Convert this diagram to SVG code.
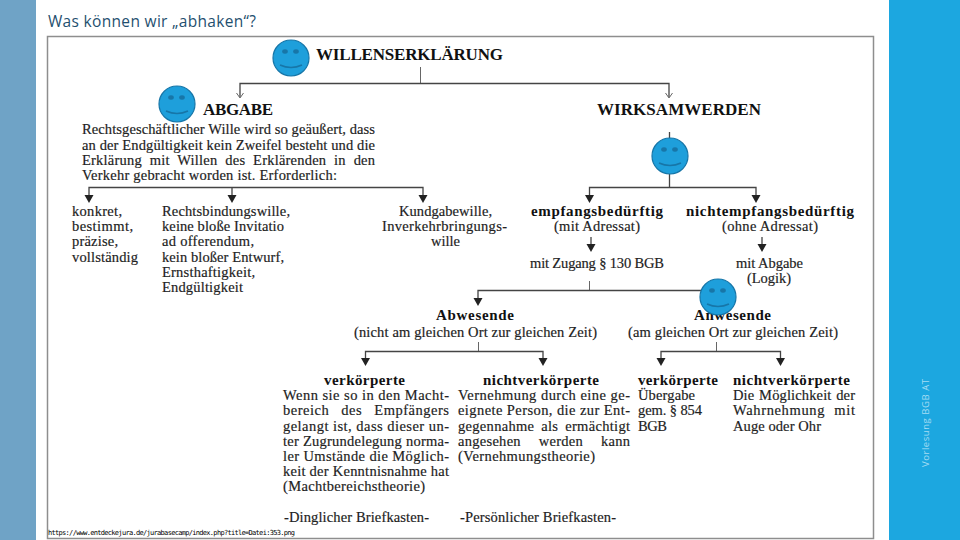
<svg xmlns="http://www.w3.org/2000/svg" width="960" height="540" viewBox="0 0 960 540">
<style>
text{font-family:"Liberation Serif","DejaVu Serif",serif;fill:#222}
.b{font-size:15px;font-weight:700;fill:#111}
.h{font-size:17px;font-weight:700;fill:#111}
.t{font-size:14.500px;stroke:#222;stroke-width:.18}
.c{fill:none;stroke:#444;stroke-width:1.3}
.th{fill:none;stroke:#666;stroke-width:1}
.s{fill:#1e9fdb;stroke:#1776a8;stroke-width:1.2}
.e{fill:#1776a8}
.m{fill:none;stroke:#1776a8;stroke-width:1.6}
</style>
<defs>
<symbol id="sm" viewBox="0 0 38 38" overflow="visible">
<circle class="s" cx="19" cy="19" r="18"/>
<ellipse class="e" cx="13" cy="12.500" rx="2.800" ry="2.200"/><ellipse class="e" cx="24" cy="12.500" rx="2.800" ry="2.200"/>
<path class="m" d="M8 26 Q19 31 30 26"/>
</symbol>
</defs>
<rect width="960" height="540" fill="#fff"/>
<rect x="0" y="0" width="36" height="540" fill="#6fa3c6"/>
<rect x="889" y="0" width="71" height="540" fill="#1ca7e0"/>
<text x="48" y="27" style="font-family:'Open Sans',Lato,sans-serif;font-size:15.500px;fill:#1f506f" textLength="208">Was können wir „abhaken“?</text>
<text transform="translate(929,467) rotate(-90)" style="font-family:'Open Sans',sans-serif;font-size:9.500px;fill:#a5dcf3" textLength="88">Vorlesung BGB AT</text>
<rect x="47.500" y="36.500" width="826" height="502" fill="#fff" stroke="#8e8e8e" stroke-width="1.500"/>

<g id="connectors">
<path class="th" d="M420.500 67V83"/>
<path class="c" d="M240 97V83.500H669V97"/>
<path class="th" d="M236.500 93L240 98L243.500 93M665.500 93L669 98L672.500 93"/>
<path class="c" d="M89 197V187.500H423V197M232 187.500V197"/>
<path class="c" d="M669.500 132V187.500M589.500 197V187.500H756V197"/>
<path class="c" d="M591 237V246"/><path class="c" d="M762 237V246"/>
<path class="th" d="M589.500 281V290"/>
<path class="c" d="M478 300V290.500H705"/>
<path class="th" d="M478.500 342V351M716.500 342V351"/>
<path class="c" d="M365.500 360V351.500H543V360"/>
<path class="c" d="M661 360V351.500H780.500V360"/>
<path fill="#222" d="M84.500 195h9l-4.500 8zM227.500 195h9l-4.500 8zM418.500 195h9l-4.500 8zM585 195h9l-4.500 8zM751.500 195h9l-4.500 8zM586.500 244h9l-4.500 8zM757.500 244h9l-4.500 8zM473.500 298h9l-4.500 8zM361 358h9l-4.500 8zM538.500 358h9l-4.500 8zM656.500 358h9l-4.500 8zM776 358h9l-4.500 8z"/>
</g>

<g id="willenserklaerung"><text class="h" x="316" y="60" textLength="187">WILLENSERKLÄRUNG</text></g>
<g id="abgabe"><text class="h" x="203" y="115" textLength="70">ABGABE</text>
<text class="t" x="82" y="134" textLength="293">Rechtsgeschäftlicher Wille wird so geäußert, dass</text>
<text class="t" x="82" y="150" textLength="293">an der Endgültigkeit kein Zweifel besteht und die</text>
<text class="t" x="82" y="165" textLength="293" word-spacing="4">Erklärung mit Willen des Erklärenden in den</text>
<text class="t" x="82" y="180" textLength="255">Verkehr gebracht worden ist. Erforderlich:</text></g>
<g id="konkret"><text class="t" x="72" y="216" textLength="50">konkret,</text><text class="t" x="72" y="231" textLength="61">bestimmt,</text><text class="t" x="72" y="246" textLength="46">präzise,</text><text class="t" x="72" y="262" textLength="66">vollständig</text></g>
<g id="rechtsbindungswille">
<text class="t" x="162" y="216" textLength="128">Rechtsbindungswille,</text>
<text class="t" x="162" y="231" textLength="122">keine bloße Invitatio</text>
<text class="t" x="162" y="246" textLength="92">ad offerendum,</text>
<text class="t" x="162" y="262" textLength="122">kein bloßer Entwurf,</text>
<text class="t" x="162" y="277" textLength="93">Ernsthaftigkeit,</text>
<text class="t" x="162" y="292" textLength="81">Endgültigkeit</text></g>
<g id="kundgabewille">
<text class="t" x="399" y="216" textLength="93">Kundgabewille,</text>
<text class="t" x="382" y="231" textLength="125">Inverkehrbringungs-</text>
<text class="t" x="431" y="246" textLength="29">wille</text></g>
<g id="wirksamwerden"><text class="h" x="597" y="115" textLength="164">WIRKSAMWERDEN</text></g>
<g id="empfangsbeduerftig">
<text class="b" x="531" y="216" textLength="132">empfangsbedürftig</text>
<text class="t" x="554" y="231" textLength="86">(mit Adressat)</text>
<text class="t" x="530" y="268" textLength="134">mit Zugang § 130 BGB</text></g>
<g id="nichtempfangsbeduerftig">
<text class="b" x="686" y="216" textLength="168">nichtempfangsbedürftig</text>
<text class="t" x="722" y="231" textLength="96">(ohne Adressat)</text>
<text class="t" x="736" y="268" textLength="67">mit Abgabe</text>
<text class="t" x="747" y="283" textLength="44">(Logik)</text></g>
<g id="abwesende">
<text class="b" x="436" y="320" textLength="78">Abwesende</text>
<text class="t" x="354" y="336.500" textLength="243">(nicht am gleichen Ort zur gleichen Zeit)</text></g>
<g id="anwesende">
<text class="b" x="694" y="320" textLength="77">Anwesende</text>
<text class="t" x="628" y="336.500" textLength="210">(am gleichen Ort zur gleichen Zeit)</text></g>
<g id="verkoerperte-1">
<text class="b" x="324" y="385" textLength="81">verkörperte</text>
<text class="t" x="283" y="400" textLength="166">Wenn sie so in den Macht-</text>
<text class="t" x="283" y="415" textLength="166" word-spacing="8">bereich des Empfängers</text>
<text class="t" x="283" y="431" textLength="166">gelangt ist, dass dieser un-</text>
<text class="t" x="283" y="446" textLength="166">ter Zugrundelegung norma-</text>
<text class="t" x="283" y="461" textLength="166">ler Umstände die Möglich-</text>
<text class="t" x="283" y="476" textLength="166">keit der Kenntnisnahme hat</text>
<text class="t" x="283" y="491" textLength="142">(Machtbereichstheorie)</text>
<text class="t" x="284" y="522" textLength="145">-Dinglicher Briefkasten-</text></g>
<g id="nichtverkoerperte-1">
<text class="b" x="483" y="385" textLength="116">nichtverkörperte</text>
<text class="t" x="458" y="400" textLength="172">Vernehmung durch eine ge-</text>
<text class="t" x="458" y="415" textLength="172">eignete Person, die zur Ent-</text>
<text class="t" x="458" y="431" textLength="172" word-spacing="3">gegennahme als ermächtigt</text>
<text class="t" x="458" y="446" textLength="172" word-spacing="14">angesehen werden kann</text>
<text class="t" x="458" y="461" textLength="137">(Vernehmungstheorie)</text>
<text class="t" x="460" y="522" textLength="156">-Persönlicher Briefkasten-</text></g>
<g id="verkoerperte-2">
<text class="b" x="638" y="385" textLength="80">verkörperte</text>
<text class="t" x="638" y="400" textLength="57">Übergabe</text>
<text class="t" x="638" y="415" textLength="64">gem. § 854</text>
<text class="t" x="638" y="431" textLength="29">BGB</text></g>
<g id="nichtverkoerperte-2">
<text class="b" x="733" y="385" textLength="117">nichtverkörperte</text>
<text class="t" x="733" y="400" textLength="122" word-spacing="1">Die Möglichkeit der</text>
<text class="t" x="733" y="415" textLength="122" word-spacing="5">Wahrnehmung mit</text>
<text class="t" x="733" y="431" textLength="88">Auge oder Ohr</text></g>

<g id="smiley-1"><use href="#sm" x="272" y="39" width="38" height="38"/></g>
<g id="smiley-2"><use href="#sm" x="158" y="85" width="38" height="38"/></g>
<g id="smiley-3"><use href="#sm" x="651" y="137" width="38" height="38"/></g>
<g id="smiley-4"><use href="#sm" x="699" y="278" width="38" height="38"/></g>

<text x="48" y="535" style="font-family:'DejaVu Sans Mono',monospace;font-size:7px;fill:#000" textLength="247">https://www.entdeckejura.de/jurabasecamp/index.php?title=Datei:353.png</text>
</svg>
